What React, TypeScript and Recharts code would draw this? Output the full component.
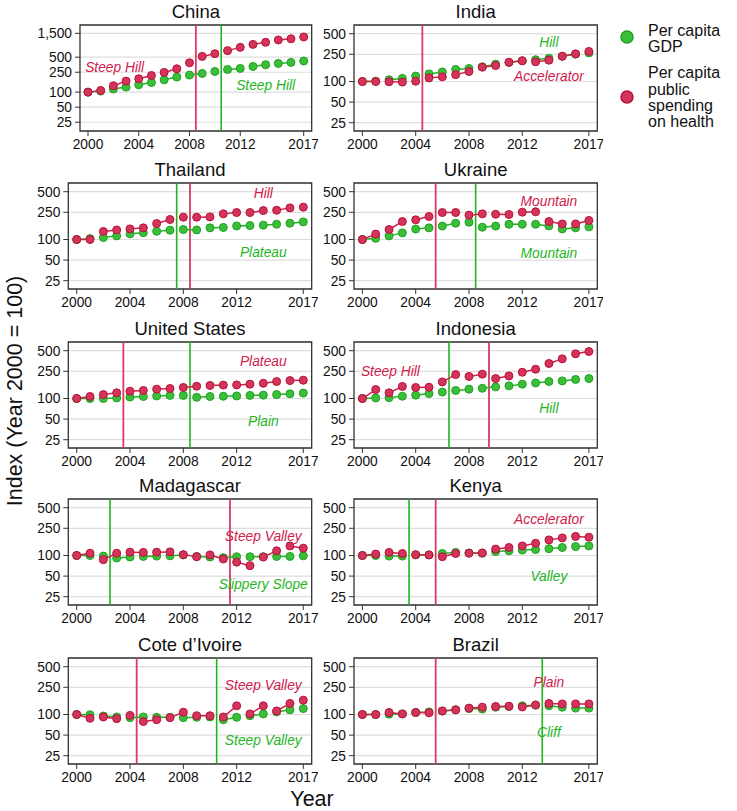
import React from 'react';
import {
  LineChart,
  Line,
  XAxis,
  YAxis,
  CartesianGrid,
  ReferenceLine,
  ReferenceArea,
  ReferenceDot,
} from 'recharts';

const FONT = '"Liberation Sans", Arial, Helvetica, sans-serif';

const RED = '#d1204c';
const RED_DOT = '#d3345a';
const RED_LINE = '#da3a64';
const GREEN = '#1fb51f';
const GREEN_DOT = '#3bbf3b';
const GREEN_EDGE = '#1f9f1f';

// Data
const YEARS = [2000, 2001, 2002, 2003, 2004, 2005, 2006, 2007, 2008, 2009, 2010, 2011, 2012, 2013, 2014, 2015, 2016, 2017];
const X_TICKS = [2000, 2004, 2008, 2012, 2017];
const Y_TICKS = [25, 50, 100, 250, 500];
const CHINA_Y_TICKS = [25, 50, 100, 250, 500, 1500];

const CHINA_GDP = [100, 105, 115, 126, 140, 156, 176, 200, 219, 236, 259, 284, 298, 326, 353, 375, 393, 419];
const CHINA_HEALTH = [100, 108, 134, 166, 185, 215, 248, 293, 387, 518, 587, 676, 786, 901, 990, 1105, 1165, 1270];
const INDIA_GDP = [100, 101, 106, 111, 120, 129, 138, 150, 155, 164, 179, 190, 201, 208, 219, 234, 251, 262];
const INDIA_HEALTH = [100, 100, 99, 98, 101, 113, 117, 126, 140, 162, 171, 191, 201, 194, 205, 234, 254, 275];
const THAILAND_GDP = [100, 103, 107, 113, 121, 126, 132, 137, 140, 138, 148, 150, 158, 160, 162, 167, 173, 181];
const THAILAND_HEALTH = [100, 100, 131, 138, 143, 148, 171, 196, 212, 212, 214, 237, 248, 248, 265, 268, 290, 297];
const UKRAINE_GDP = [100, 104, 113, 125, 142, 148, 157, 173, 179, 151, 157, 167, 167, 167, 158, 143, 148, 153];
const UKRAINE_HEALTH = [100, 120, 140, 183, 194, 217, 248, 248, 227, 237, 234, 232, 251, 254, 183, 169, 169, 190];
const US_GDP = [100, 100, 100, 102, 105, 107, 109, 111, 111, 104, 107, 108, 109, 111, 112, 114, 117, 120];
const US_HEALTH = [100, 107, 114, 121, 128, 131, 137, 140, 145, 151, 155, 157, 158, 162, 167, 177, 183, 185];
const INDONESIA_GDP = [100, 102, 103, 108, 112, 118, 124, 131, 137, 141, 148, 153, 162, 169, 177, 181, 190, 196];
const INDONESIA_HEALTH = [100, 135, 121, 150, 145, 146, 175, 224, 210, 227, 196, 214, 242, 268, 325, 380, 450, 486];
const MADAGASCAR_GDP = [100, 100, 98, 92, 95, 97, 98, 99, 102, 97, 95, 93, 96, 96, 96, 97, 97, 99];
const MADAGASCAR_HEALTH = [100, 108, 87, 108, 112, 111, 112, 113, 103, 96, 102, 89, 80, 71, 95, 117, 138, 128];
const KENYA_GDP = [100, 100, 98, 98, 102, 102, 107, 111, 109, 108, 114, 117, 120, 122, 126, 131, 135, 138];
const KENYA_HEALTH = [100, 105, 111, 107, 103, 102, 96, 107, 108, 109, 124, 131, 138, 151, 169, 181, 190, 185];
const COTE_GDP = [100, 99, 95, 92, 90, 92, 91, 91, 90, 91, 92, 84, 91, 96, 102, 109, 117, 122];
const COTE_HEALTH = [100, 88, 92, 87, 97, 79, 84, 90, 108, 96, 96, 92, 134, 102, 134, 113, 145, 162];
const BRAZIL_GDP = [100, 100, 101, 102, 107, 109, 112, 117, 122, 120, 128, 131, 134, 137, 134, 128, 124, 124];
const BRAZIL_HEALTH = [100, 100, 107, 102, 107, 106, 113, 117, 124, 128, 131, 132, 129, 138, 145, 143, 143, 143];

const COUNTRIES = ['China', 'India', 'Thailand', 'Ukraine', 'United States', 'Indonesia', 'Madagascar', 'Kenya', 'Cote d\u2019Ivoire', 'Brazil'];
const GDP_SERIES = [CHINA_GDP, INDIA_GDP, THAILAND_GDP, UKRAINE_GDP, US_GDP, INDONESIA_GDP, MADAGASCAR_GDP, KENYA_GDP, COTE_GDP, BRAZIL_GDP];
const HEALTH_SERIES = [CHINA_HEALTH, INDIA_HEALTH, THAILAND_HEALTH, UKRAINE_HEALTH, US_HEALTH, INDONESIA_HEALTH, MADAGASCAR_HEALTH, KENYA_HEALTH, COTE_HEALTH, BRAZIL_HEALTH];
// break points (between years), null = none
const GDP_BREAKS = [2010.5, null, 2007.5, 2008.5, 2008.5, 2006.5, 2002.5, 2003.5, 2010.5, 2013.5];
const HEALTH_BREAKS = [2008.5, 2004.5, 2008.5, 2005.5, 2003.5, 2009.5, 2011.5, 2005.5, 2004.5, 2005.5];
const GDP_LABELS = ['Steep Hill', 'Hill', 'Plateau', 'Mountain', 'Plain', 'Hill', 'Slippery Slope', 'Valley', 'Steep Valley', 'Cliff'];
const HEALTH_LABELS = ['Steep Hill', 'Accelerator', 'Hill', 'Mountain', 'Plateau', 'Steep Hill', 'Steep Valley', 'Accelerator', 'Steep Valley', 'Plain'];

// label anchors [year, value]
const GDP_LABEL_AT = [[2014, 134], [2014, 377], [2014, 64], [2014, 62], [2014, 46], [2014, 71], [2014, 37.5], [2014, 50], [2014, 41], [2014, 54]];
const HEALTH_LABEL_AT = [[2002.1, 315], [2014, 120], [2014, 477], [2014, 364], [2014, 349], [2002.1, 250], [2014, 191], [2014, 334], [2014, 267], [2014, 293]];

const X_DOMAIN = [1999.37, 2017.63];
const Y_DOMAIN = [18.9, 670];
const CHINA_Y_DOMAIN = [16.7, 2200];

const PLOT_H = 106;
const ROW_TOPS = [25, 183, 342, 499, 658];

// pairs of consecutive years, restarting after the break
const segments = (vals: number[], brk: number | null) => {
  const restart = brk == null ? 9999 : Math.ceil(brk);
  const out: { x: number; v: number | null }[] = [];
  YEARS.forEach((y, i) => {
    const start = y < restart ? (y - 2000) % 2 === 0 : (y - restart) % 2 === 0;
    if (start && i > 0) out.push({ x: y - 0.5, v: null });
    out.push({ x: y, v: vals[i] });
  });
  return out;
};

const tickStyle = { fontSize: 13.8, fill: '#111', fontFamily: FONT };

const labelShape = (text: string, color: string) => (props: any) => (
  <text
    x={props.cx}
    y={props.cy}
    textAnchor="middle"
    dominantBaseline="central"
    fill={color}
    fontSize={13.8}
    fontStyle="italic"
    fontFamily={FONT}
  >
    {text}
  </text>
);

const Panel = ({ i }: { i: number }) => {
  const col = i % 2;
  const row = Math.floor(i / 2);
  const isChina = i === 0;
  const plotLeft = col === 0 ? (isChina ? 80 : 68.3) : 354;
  const plotW = col === 0 ? 311.7 - plotLeft : 243.3;
  const plotTop = ROW_TOPS[row];
  const yw = col === 0 ? plotLeft - 20 : plotLeft - 318;
  const yDomain = isChina ? CHINA_Y_DOMAIN : Y_DOMAIN;
  const yTicks = isChina ? CHINA_Y_TICKS : Y_TICKS;
  const gBrk = GDP_BREAKS[i];
  const hBrk = HEALTH_BREAKS[i];

  return (
    <div style={{ position: 'absolute', left: plotLeft - yw, top: plotTop - 5 }}>
      <LineChart width={yw + plotW + 6} height={PLOT_H + 30} margin={{ top: 5, right: 6, bottom: 0, left: 0 }}>
        <CartesianGrid vertical={false} stroke="#dedede" strokeWidth={1.2} />
        <XAxis
          type="number"
          dataKey="x"
          domain={X_DOMAIN}
          ticks={X_TICKS}
          interval={0}
          allowDataOverflow
          height={25}
          tickSize={5}
          tickMargin={3}
          axisLine={false}
          tickLine={{ stroke: '#333' }}
          tick={tickStyle}
        />
        <YAxis
          type="number"
          scale="log"
          domain={yDomain}
          ticks={yTicks}
          interval={0}
          allowDataOverflow
          width={yw}
          tickSize={5}
          tickMargin={3}
          axisLine={false}
          tickLine={{ stroke: '#333' }}
          tick={tickStyle}
          tickFormatter={(v: number) => v.toLocaleString('en-US')}
        />
        <ReferenceArea
          x1={X_DOMAIN[0]}
          x2={X_DOMAIN[1]}
          y1={yDomain[0]}
          y2={yDomain[1]}
          fill="none"
          stroke="#333"
          strokeWidth={1.3}
          ifOverflow="visible"
        />
        {gBrk != null && <ReferenceLine x={gBrk} stroke={GREEN} strokeWidth={1.6} />}
        <ReferenceLine x={hBrk} stroke={RED_LINE} strokeWidth={1.8} />
        <Line
          data={segments(GDP_SERIES[i], gBrk ?? hBrk)}
          dataKey="v"
          stroke={GREEN}
          strokeWidth={1.5}
          dot={{ r: 4, fill: GREEN_DOT, stroke: GREEN_EDGE, strokeWidth: 1 }}
          activeDot={false}
          isAnimationActive={false}
        />
        <Line
          data={segments(HEALTH_SERIES[i], hBrk)}
          dataKey="v"
          stroke={RED}
          strokeWidth={1.5}
          dot={{ r: 4, fill: RED_DOT, stroke: '#b8103c', strokeWidth: 1 }}
          activeDot={false}
          isAnimationActive={false}
        />
        <ReferenceDot
          x={HEALTH_LABEL_AT[i][0]}
          y={HEALTH_LABEL_AT[i][1]}
          r={0}
          ifOverflow="visible"
          shape={labelShape(HEALTH_LABELS[i], RED)}
        />
        <ReferenceDot
          x={GDP_LABEL_AT[i][0]}
          y={GDP_LABEL_AT[i][1]}
          r={0}
          ifOverflow="visible"
          shape={labelShape(GDP_LABELS[i], GREEN)}
        />
      </LineChart>
    </div>
  );
};

const Overlay = () => {
  const titles = COUNTRIES.map((name, i) => {
    const col = i % 2;
    const left = col === 0 ? (i === 0 ? 80 : 68.3) : 354;
    const right = col === 0 ? 311.7 : 597.3;
    return (
      <text key={name} x={(left + right) / 2} y={ROW_TOPS[Math.floor(i / 2)] - 7} textAnchor="middle" fontSize={18.5} fill="#111">
        {name}
      </text>
    );
  });
  return (
    <svg width={737} height={811} style={{ position: 'absolute', left: 0, top: 0, pointerEvents: 'none' }} fontFamily={FONT}>
      {titles}
      <text transform="translate(22,391) rotate(-90)" textAnchor="middle" fontSize={21.5} fill="#111">
        Index (Year 2000 = 100)
      </text>
      <text x={312} y={806} textAnchor="middle" fontSize={21.5} fill="#111">
        Year
      </text>
      {/* legend */}
      <circle cx={627} cy={37} r={6} fill={GREEN_DOT} stroke={GREEN_EDGE} strokeWidth={1.5} />
      <circle cx={627} cy={97} r={6} fill={RED_DOT} stroke="#b8103c" strokeWidth={1.5} />
      <g fontSize={16} fill="#111">
        <text x={648} y={35.5}>Per capita</text>
        <text x={648} y={51.7}>GDP</text>
        <text x={648} y={78.3}>Per capita</text>
        <text x={648} y={94.8}>public</text>
        <text x={648} y={111}>spending</text>
        <text x={648} y={127}>on health</text>
      </g>
    </svg>
  );
};

export default function App() {
  return (
    <div style={{ position: 'absolute', left: 0, top: 0, width: 737, height: 811, background: '#fff', fontFamily: FONT }}>
      {COUNTRIES.map((c, i) => (
        <Panel key={c} i={i} />
      ))}
      <Overlay />
    </div>
  );
}
